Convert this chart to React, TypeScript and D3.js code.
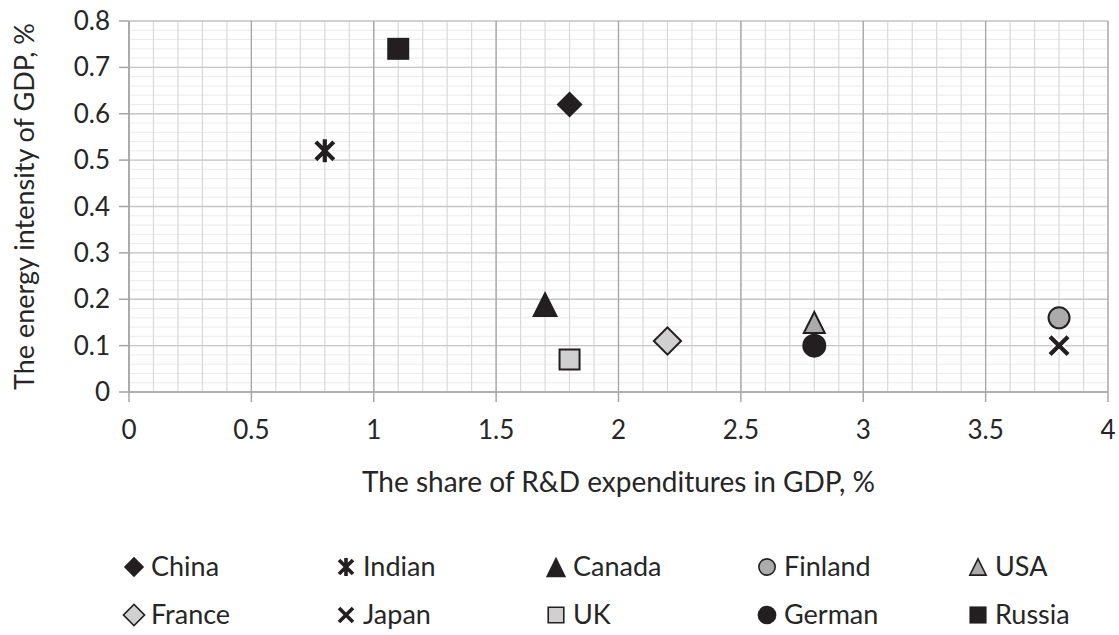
import React from 'react';
import * as d3 from 'd3';

// series, in legend order (row by row)
const countries = ['China', 'Indian', 'Canada', 'Finland', 'USA', 'France', 'Japan', 'UK', 'German', 'Russia'];
const rdShare = [1.8, 0.8, 1.7, 3.8, 2.8, 2.2, 3.8, 1.8, 2.8, 1.1];
const energyIntensity = [0.62, 0.52, 0.19, 0.16, 0.15, 0.11, 0.1, 0.07, 0.1, 0.74];

const xTicks = [0, 0.5, 1, 1.5, 2, 2.5, 3, 3.5, 4];
const yTicks = [0, 0.1, 0.2, 0.3, 0.4, 0.5, 0.6, 0.7, 0.8];

const markers: Record<string, { shape: string; fill: string; size: number }> = {
  China: { shape: 'diamond', fill: '#231f20', size: 26 },
  Indian: { shape: 'star', fill: '#231f20', size: 23 },
  Canada: { shape: 'triangle', fill: '#231f20', size: 26 },
  Finland: { shape: 'circle', fill: '#ababab', size: 23 },
  USA: { shape: 'triangle', fill: '#ababab', size: 23 },
  France: { shape: 'diamond', fill: '#d0d0d0', size: 30 },
  Japan: { shape: 'x', fill: '#231f20', size: 23 },
  UK: { shape: 'square', fill: '#d0d0d0', size: 22 },
  German: { shape: 'circle', fill: '#231f20', size: 24 },
  Russia: { shape: 'square', fill: '#231f20', size: 22 },
};

const W = 1119;
const H = 635;
const margin = { left: 129, right: 10, top: 21, bottom: 243 };
const font = 'Lato, "Open Sans", sans-serif';
const textColor = '#262626';

function Marker({ name, cx, cy, scale = 1 }: { name: string; cx: number; cy: number; scale?: number }) {
  const m = markers[name];
  const s = m.size * scale;
  const h = s / 2;
  const outline = m.fill === '#231f20' ? 'none' : '#231f20';
  const sw = 2 * Math.max(scale, 0.8);
  if (m.shape === 'circle') {
    return <circle cx={cx} cy={cy} r={h - (outline === 'none' ? 0 : sw / 2)} fill={m.fill} stroke={outline} strokeWidth={sw} />;
  }
  if (m.shape === 'square') {
    const d = d3.symbol(d3.symbolSquare, (s - (outline === 'none' ? 0 : sw)) ** 2)();
    return <path d={d || ''} transform={`translate(${cx},${cy})`} fill={m.fill} stroke={outline} strokeWidth={sw} />;
  }
  if (m.shape === 'diamond') {
    const side = (s - (outline === 'none' ? 0 : sw * 1.4)) / Math.SQRT2;
    const d = d3.symbol(d3.symbolSquare, side * side)();
    return <path d={d || ''} transform={`translate(${cx},${cy}) rotate(45)`} fill={m.fill} stroke={outline} strokeWidth={sw} />;
  }
  if (m.shape === 'triangle') {
    const p = d3.path();
    const t = outline === 'none' ? h : h - sw / 2;
    p.moveTo(0, -t);
    p.lineTo(t, t);
    p.lineTo(-t, t);
    p.closePath();
    return <path d={p.toString()} transform={`translate(${cx},${cy})`} fill={m.fill} stroke={outline} strokeWidth={sw} strokeLinejoin="miter" />;
  }
  // x and star: stroked lines with white halo
  const a = h * 0.78;
  const p = d3.path();
  p.moveTo(-a, -a);
  p.lineTo(a, a);
  p.moveTo(a, -a);
  p.lineTo(-a, a);
  if (m.shape === 'star') {
    p.moveTo(0, -h);
    p.lineTo(0, h);
  }
  const d = p.toString();
  return (
    <g transform={`translate(${cx},${cy})`}>
      {scale === 1 && <path d={d} stroke="#fff" strokeWidth={8} fill="none" />}
      <path d={d} stroke={m.fill} strokeWidth={scale === 1 ? 4.2 : 3.6} fill="none" />
    </g>
  );
}

export default function App() {
  const x = d3.scaleLinear().domain([0, 4]).range([margin.left, W - margin.right - 1]);
  const y = d3.scaleLinear().domain([0, 0.8]).range([H - margin.bottom, margin.top]);

  const xMinor = d3.range(0, 40.5, 1).map((v) => v / 10);
  const yMinor = d3.range(0, 40.5, 1).map((v) => v / 50);

  const legendCols = [134, 346, 556, 767, 978];
  const legendRows = [567, 615];

  return (
    <div style={{ position: 'absolute', left: 0, top: 0 }}>
      <svg width={W} height={H} style={{ display: 'block', background: '#fff' }} fontFamily={font}>
        {/* minor horizontal grid */}
        {yMinor.map((v) => (
          <line key={'ym' + v} x1={x(0)} x2={x(4)} y1={y(v)} y2={y(v)} stroke="#ebebeb" strokeWidth={1} />
        ))}
        {/* minor vertical grid */}
        {xMinor.map((v) => (
          <line key={'xm' + v} x1={x(v)} x2={x(v)} y1={y(0)} y2={y(0.8)} stroke="#d9d9d9" strokeWidth={1.2} />
        ))}
        {/* major horizontal grid */}
        {yTicks.map((v) => (
          <line key={'yM' + v} x1={x(0)} x2={x(4)} y1={y(v)} y2={y(v)} stroke="#c6c6c6" strokeWidth={1.3} />
        ))}
        {/* major vertical grid */}
        {xTicks.map((v) => (
          <line key={'xM' + v} x1={x(v)} x2={x(v)} y1={y(0)} y2={y(0.8)} stroke="#a6a6a6" strokeWidth={1.3} />
        ))}

        {/* axes */}
        <line x1={x(0)} x2={x(0)} y1={y(0)} y2={y(0.8)} stroke="#a6a6a6" strokeWidth={1.5} />
        <line x1={x(0)} x2={x(4)} y1={y(0)} y2={y(0)} stroke="#a6a6a6" strokeWidth={1.5} />
        {yTicks.map((v) => (
          <g key={'yt' + v}>
            <line x1={x(0) - 10} x2={x(0)} y1={y(v)} y2={y(v)} stroke="#a6a6a6" strokeWidth={1.5} />
            <text x={x(0) - 19} y={y(v)} dy="0.35em" textAnchor="end" fontSize={26} fill={textColor}>
              {d3.format('')(v)}
            </text>
          </g>
        ))}
        {xTicks.map((v) => (
          <g key={'xt' + v}>
            <line x1={x(v)} x2={x(v)} y1={y(0)} y2={y(0) + 10} stroke="#a6a6a6" strokeWidth={1.5} />
            <text x={x(v)} y={y(0) + 38} dy="0.35em" textAnchor="middle" fontSize={26} fill={textColor}>
              {d3.format('')(v)}
            </text>
          </g>
        ))}

        <text x={(x(0) + x(4)) / 2} y={482} dy="0.35em" textAnchor="middle" fontSize={28} fill={textColor}>
          The share of R&amp;D expenditures in GDP, %
        </text>
        <text
          transform={`translate(25,${(y(0) + y(0.8)) / 2}) rotate(-90)`}
          dy="0.35em"
          textAnchor="middle"
          fontSize={27}
          fill={textColor}
        >
          The energy intensity of GDP, %
        </text>

        {/* data points */}
        {countries.map((c, i) => (
          <Marker key={c} name={c} cx={x(rdShare[i])} cy={y(energyIntensity[i])} />
        ))}

        {/* legend */}
        {countries.map((c, i) => {
          const cx = legendCols[i % 5];
          const cy = legendRows[Math.floor(i / 5)];
          return (
            <g key={'lg' + c}>
              <Marker name={c} cx={cx} cy={cy} scale={0.78} />
              <text x={cx + 17} y={cy} dy="0.35em" fontSize={27} fill={textColor}>
                {c}
              </text>
            </g>
          );
        })}
      </svg>
    </div>
  );
}
